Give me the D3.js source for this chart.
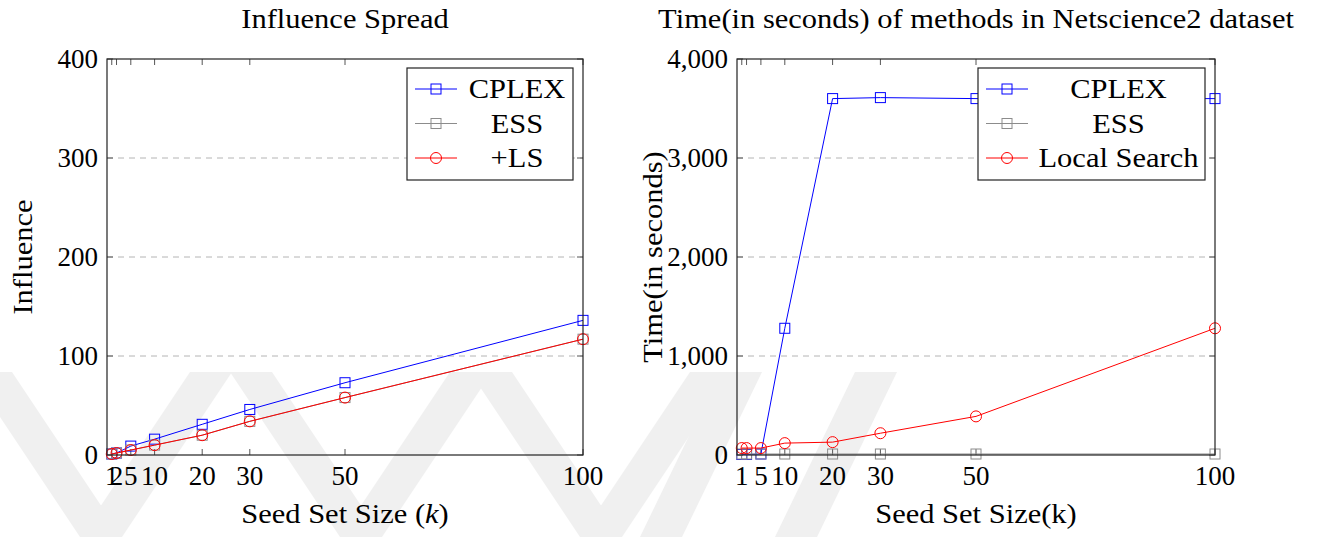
<!DOCTYPE html>
<html>
<head>
<meta charset="utf-8">
<script src="https://cdn.jsdelivr.net/npm/d3@7"></script>
<style>
  body { margin: 0; background: #fff; }
  svg text { font-family: "Liberation Serif", "DejaVu Serif", serif; fill: #000; }
</style>
</head>
<body>
<div id="chart"></div>
<script>
// seed set sizes
let seeds = [1, 2, 5, 10, 20, 30, 50, 100];

// influence spread
let influenceCplex = [1, 2, 9, 16, 31, 46, 73, 136];
let influenceEss = [1, 2, 5, 10, 20, 34, 58, 117];
let influenceLs = [1, 2, 5, 10, 20, 34, 58, 117];

// running time (seconds)
let timeCplex = [5, 5, 10, 1280, 3600, 3610, 3600, 3600];
let timeEss = [10, 10, 10, 10, 10, 10, 10, 10];
let timeLs = [70, 70, 70, 120, 130, 220, 390, 1280];

let leftXLabels = [1, 2, 5, 10, 20, 30, 50, 100];
let rightXLabels = [1, 5, 10, 20, 30, 50, 100];
let leftYTicks = [0, 100, 200, 300, 400];
let rightYTicks = [0, 1000, 2000, 3000, 4000];

const FS = 27;       // font size
const WIDE = 1.13;   // widen word labels a bit (Computer Modern look)

let svg = d3.select("#chart").append("svg")
    .attr("width", 1320)
    .attr("height", 537);

// faint watermark chevrons in the background: [top x, bottom x] of each band
let wm = svg.append("g").attr("fill", "#f0f0f0");
[[-30, 80], [190, 80], [230, 340], [450, 340], [470, 580], [690, 580], [720, 640], [855, 775]].forEach(function(b) {
    wm.append("path")
        .attr("d", "M" + b[0] + ",372 L" + (b[0] + 42) + ",372 L" + (b[1] + 42) + ",537 L" + b[1] + ",537 Z");
});

// text helper: widened text, optionally rotated
function label(parent, x, y, str, rotate) {
    let t = parent.append("text")
        .attr("transform", "translate(" + x + "," + y + ")" + (rotate ? " rotate(-90)" : "") + " scale(" + WIDE + ",1)")
        .attr("text-anchor", "middle")
        .style("font-size", FS + "px");
    if (typeof str === "string") {
        t.text(str);
    } else {
        str.forEach(function(p) {
            t.append("tspan").style("font-style", p[1] ? "italic" : "normal").text(p[0]);
        });
    }
    return t;
}

function drawMarkers(g, s, xs, ys) {
    xs.forEach(function(px, i) {
        if (s.marker === "square") {
            g.append("rect")
                .attr("x", px - 5).attr("y", ys[i] - 5)
                .attr("width", 10).attr("height", 10)
                .attr("fill", "none").attr("stroke", s.color).attr("stroke-width", 1);
        } else {
            g.append("circle")
                .attr("cx", px).attr("cy", ys[i]).attr("r", 5.5)
                .attr("fill", "none").attr("stroke", s.color).attr("stroke-width", 1);
        }
    });
}

function drawPanel(opt) {
    let x = d3.scaleLinear().domain([0, 100]).range([opt.left, opt.right]);
    let y = d3.scaleLinear().domain([0, opt.ymax]).range([455, 59]);
    let g = svg.append("g");

    // dashed grid
    g.selectAll(".grid")
        .data(opt.yTicks.slice(1, -1))
        .enter().append("line")
        .attr("x1", opt.left).attr("x2", opt.right)
        .attr("y1", d => y(d)).attr("y2", d => y(d))
        .attr("stroke", "#b4b4b4")
        .attr("stroke-width", 1)
        .attr("stroke-dasharray", "6,5");

    // inward ticks on all four sides
    let tk = g.append("g").attr("stroke", "#555").attr("stroke-width", 1);
    seeds.forEach(function(s) {
        tk.append("line").attr("x1", x(s)).attr("x2", x(s)).attr("y1", 455).attr("y2", 449);
        tk.append("line").attr("x1", x(s)).attr("x2", x(s)).attr("y1", 59).attr("y2", 65);
    });
    opt.yTicks.forEach(function(t) {
        tk.append("line").attr("x1", opt.left).attr("x2", opt.left + 6).attr("y1", y(t)).attr("y2", y(t));
        tk.append("line").attr("x1", opt.right).attr("x2", opt.right - 6).attr("y1", y(t)).attr("y2", y(t));
    });

    // series lines + markers
    opt.series.forEach(function(s) {
        let line = d3.line().x((d, i) => x(seeds[i])).y(d => y(d));
        g.append("path")
            .datum(s.values)
            .attr("fill", "none")
            .attr("stroke", s.color)
            .attr("stroke-width", 1)
            .attr("d", line);
        drawMarkers(g, s, seeds.map(k => x(k)), s.values.map(v => y(v)));
    });

    // frame
    g.append("rect")
        .attr("x", opt.left).attr("y", 59)
        .attr("width", opt.right - opt.left).attr("height", 396)
        .attr("fill", "none").attr("stroke", "#222").attr("stroke-width", 1.2);

    // tick labels
    g.selectAll(".xl")
        .data(opt.xLabels)
        .enter().append("text")
        .attr("x", d => x(d))
        .attr("y", 485)
        .attr("text-anchor", "middle")
        .style("font-size", FS + "px")
        .text(d => d);
    g.selectAll(".yl")
        .data(opt.yTicks)
        .enter().append("text")
        .attr("x", opt.left - 9)
        .attr("y", d => y(d) + 9)
        .attr("text-anchor", "end")
        .style("font-size", FS + "px")
        .text(d => opt.fmt(d));

    // titles
    let cx = (opt.left + opt.right) / 2;
    label(g, cx, 28, opt.title);
    label(g, cx, 523, opt.xlabel);
    label(g, opt.ylabelX, 257, opt.ylabel, true);

    // legend
    let lg = g.append("g").attr("transform", "translate(" + opt.legend[0] + ",68)");
    lg.append("rect")
        .attr("width", opt.legend[1]).attr("height", 112)
        .attr("fill", "#fff").attr("stroke", "#222").attr("stroke-width", 1.2);
    opt.series.forEach(function(s, i) {
        let ly = 21 + i * 34.5;
        lg.append("line")
            .attr("x1", 8).attr("x2", 50).attr("y1", ly).attr("y2", ly)
            .attr("stroke", s.color).attr("stroke-width", 1);
        drawMarkers(lg, s, [29], [ly]);
        label(lg, 54 + (opt.legend[1] - 54) / 2, ly + 9, s.name);
    });
}

drawPanel({
    left: 107, right: 583, ymax: 400,
    yTicks: leftYTicks,
    xLabels: leftXLabels,
    fmt: d3.format("d"),
    title: "Influence Spread",
    xlabel: [["Seed Set Size (", false], ["k", true], [")", false]],
    ylabel: "Influence",
    ylabelX: 32,
    legend: [407, 166],
    series: [
        { name: "CPLEX", values: influenceCplex, color: "#0000ff", marker: "square" },
        { name: "ESS", values: influenceEss, color: "#8c8c8c", marker: "square" },
        { name: "+LS", values: influenceLs, color: "#ff0000", marker: "circle" }
    ]
});

drawPanel({
    left: 737, right: 1215, ymax: 4000,
    yTicks: rightYTicks,
    xLabels: rightXLabels,
    fmt: d3.format(","),
    title: "Time(in seconds) of methods in Netscience2 dataset",
    xlabel: "Seed Set Size(k)",
    ylabel: "Time(in seconds)",
    ylabelX: 662,
    legend: [978, 227],
    series: [
        { name: "CPLEX", values: timeCplex, color: "#0000ff", marker: "square" },
        { name: "ESS", values: timeEss, color: "#8c8c8c", marker: "square" },
        { name: "Local Search", values: timeLs, color: "#ff0000", marker: "circle" }
    ]
});
</script>
</body>
</html>
